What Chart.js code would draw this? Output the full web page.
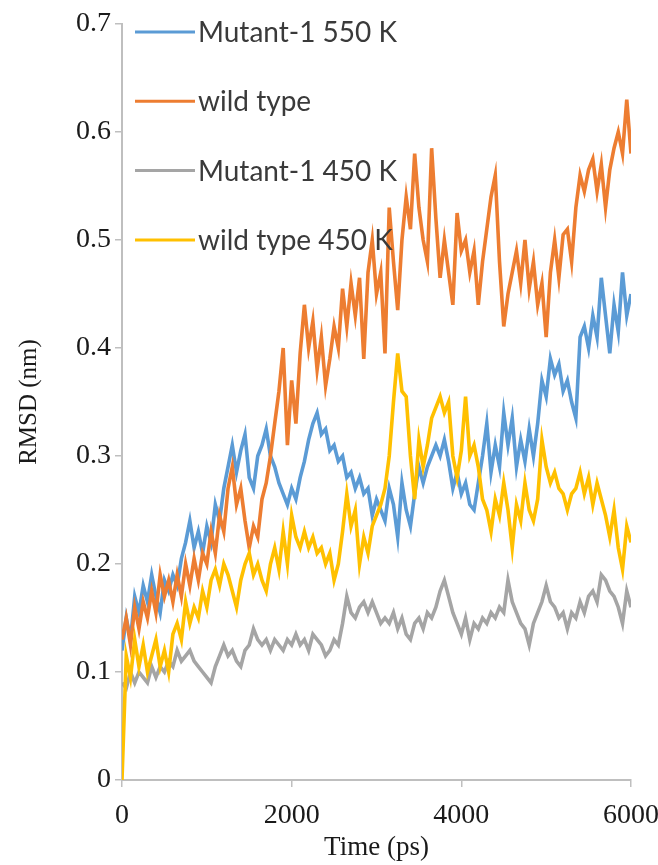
<!DOCTYPE html>
<html>
<head>
<meta charset="utf-8">
<title>RMSD vs time</title>
<script src="https://cdn.jsdelivr.net/npm/chart.js@4.4.1/dist/chart.umd.min.js"></script>
<style>
  html, body { margin: 0; padding: 0; background: #ffffff; }
  #wrap { width: 658px; height: 865px; position: relative; }
</style>
</head>
<body>
<div id="wrap"><canvas id="rmsd" width="658" height="865"></canvas></div>
<script>
// Sampling times of the trajectory frames (ps), one every 50 ps.
const timePs = [
  0, 50, 100, 150, 200, 250, 300, 350, 400, 450,
  500, 550, 600, 650, 700, 750, 800, 850, 900, 950,
  1000, 1050, 1100, 1150, 1200, 1250, 1300, 1350, 1400, 1450,
  1500, 1550, 1600, 1650, 1700, 1750, 1800, 1850, 1900, 1950,
  2000, 2050, 2100, 2150, 2200, 2250, 2300, 2350, 2400, 2450,
  2500, 2550, 2600, 2650, 2700, 2750, 2800, 2850, 2900, 2950,
  3000, 3050, 3100, 3150, 3200, 3250, 3300, 3350, 3400, 3450,
  3500, 3550, 3600, 3650, 3700, 3750, 3800, 3850, 3900, 3950,
  4000, 4050, 4100, 4150, 4200, 4250, 4300, 4350, 4400, 4450,
  4500, 4550, 4600, 4650, 4700, 4750, 4800, 4850, 4900, 4950,
  5000, 5050, 5100, 5150, 5200, 5250, 5300, 5350, 5400, 5450,
  5500, 5550, 5600, 5650, 5700, 5750, 5800, 5850, 5900, 5950,
  6000
];

// RMSD (nm) of each run
const mutant550 = [
  0.12, 0.15, 0.13, 0.17, 0.155, 0.18, 0.165, 0.19, 0.17, 0.155,
  0.185, 0.175, 0.19, 0.18, 0.205, 0.22, 0.24, 0.215, 0.23, 0.21,
  0.235, 0.22, 0.255, 0.24, 0.27, 0.29, 0.31, 0.285, 0.305, 0.32,
  0.28, 0.27, 0.3, 0.31, 0.325, 0.3, 0.29, 0.275, 0.265, 0.255,
  0.27, 0.26, 0.28, 0.295, 0.315, 0.33, 0.34, 0.32, 0.325, 0.305,
  0.31, 0.295, 0.3, 0.28, 0.285, 0.27, 0.28, 0.265, 0.27, 0.245,
  0.26, 0.25, 0.24, 0.27, 0.255, 0.225, 0.275, 0.25, 0.235, 0.265,
  0.29, 0.275, 0.29, 0.3, 0.31, 0.3, 0.315, 0.295, 0.27, 0.285,
  0.265, 0.275, 0.255, 0.25, 0.275, 0.3, 0.33, 0.285, 0.31, 0.29,
  0.34, 0.31, 0.335, 0.29, 0.315, 0.295, 0.325, 0.3, 0.33, 0.37,
  0.355, 0.39, 0.375, 0.385, 0.36, 0.37, 0.35, 0.335, 0.41, 0.42,
  0.4, 0.43, 0.41, 0.465, 0.43, 0.395, 0.44, 0.415, 0.47, 0.43,
  0.45
];

const wildType = [
  0.13, 0.15, 0.125, 0.16, 0.14, 0.165, 0.15, 0.175, 0.155, 0.19,
  0.17, 0.185, 0.165, 0.19, 0.17, 0.2, 0.18, 0.205, 0.185, 0.21,
  0.2, 0.23, 0.21, 0.245, 0.23, 0.27, 0.29, 0.255, 0.27, 0.24,
  0.215, 0.235, 0.225, 0.26, 0.275, 0.3, 0.33, 0.36, 0.4, 0.31,
  0.37, 0.33, 0.395, 0.44, 0.4, 0.425, 0.38, 0.41, 0.365, 0.39,
  0.42, 0.4, 0.455, 0.42, 0.46, 0.43, 0.465, 0.39, 0.47, 0.5,
  0.45, 0.47, 0.395, 0.53, 0.48, 0.435, 0.5, 0.54, 0.51, 0.58,
  0.53, 0.5, 0.48, 0.585, 0.52, 0.465, 0.5, 0.47, 0.44, 0.525,
  0.49, 0.5, 0.47, 0.49, 0.44, 0.48, 0.51, 0.54, 0.56, 0.48,
  0.42, 0.45, 0.47, 0.49, 0.46, 0.5, 0.455, 0.48, 0.44, 0.46,
  0.41, 0.47, 0.5, 0.465, 0.505, 0.51, 0.48, 0.53, 0.56, 0.545,
  0.565, 0.575, 0.545, 0.57, 0.53, 0.565, 0.585, 0.6, 0.58, 0.63,
  0.58
];

const mutant450 = [
  0.09, 0.085, 0.1, 0.09, 0.1, 0.095, 0.09, 0.105, 0.095, 0.105,
  0.1, 0.11, 0.105, 0.12, 0.11, 0.115, 0.12, 0.11, 0.105, 0.1,
  0.095, 0.09, 0.105, 0.115, 0.125, 0.115, 0.12, 0.11, 0.105, 0.12,
  0.125, 0.14, 0.13, 0.125, 0.13, 0.12, 0.13, 0.125, 0.12, 0.13,
  0.125, 0.135, 0.125, 0.13, 0.12, 0.135, 0.13, 0.125, 0.115, 0.12,
  0.13, 0.125, 0.145, 0.17, 0.155, 0.15, 0.16, 0.165, 0.155, 0.165,
  0.155, 0.145, 0.15, 0.145, 0.155, 0.14, 0.15, 0.135, 0.13, 0.145,
  0.15, 0.14, 0.155, 0.15, 0.16, 0.175, 0.185, 0.17, 0.155, 0.145,
  0.135, 0.15, 0.13, 0.145, 0.14, 0.15, 0.145, 0.155, 0.15, 0.16,
  0.155, 0.185, 0.165, 0.155, 0.145, 0.14, 0.125, 0.145, 0.155, 0.165,
  0.18, 0.165, 0.16, 0.15, 0.155, 0.14, 0.155, 0.15, 0.165, 0.155,
  0.17, 0.175, 0.165, 0.19, 0.185, 0.175, 0.17, 0.16, 0.145, 0.175,
  0.16
];

const wildType450 = [
  0, 0.115, 0.095, 0.13, 0.105, 0.125, 0.1, 0.115, 0.13, 0.105,
  0.12, 0.1, 0.135, 0.145, 0.13, 0.165, 0.145, 0.16, 0.15, 0.175,
  0.16, 0.185, 0.195, 0.18, 0.2, 0.19, 0.175, 0.16, 0.185, 0.2,
  0.21, 0.19, 0.2, 0.185, 0.175, 0.2, 0.215, 0.195, 0.23, 0.2,
  0.245, 0.225, 0.215, 0.23, 0.215, 0.225, 0.21, 0.215, 0.2, 0.21,
  0.185, 0.2, 0.23, 0.265, 0.235, 0.25, 0.2, 0.225, 0.21, 0.235,
  0.245, 0.255, 0.27, 0.3, 0.35, 0.395, 0.36, 0.355, 0.3, 0.26,
  0.315, 0.29, 0.31, 0.335, 0.345, 0.355, 0.34, 0.35, 0.3, 0.28,
  0.305, 0.355, 0.3, 0.31, 0.29, 0.26, 0.25, 0.23, 0.26, 0.245,
  0.275, 0.25, 0.215, 0.255, 0.24, 0.275, 0.25, 0.24, 0.26, 0.315,
  0.29, 0.275, 0.285, 0.27, 0.265, 0.25, 0.265, 0.27, 0.285, 0.265,
  0.28, 0.255, 0.275, 0.26, 0.245, 0.225, 0.25, 0.215, 0.195, 0.235,
  0.22
];

const seriesNames = ['Mutant-1 550 K', 'wild type', 'Mutant-1 450 K', 'wild type 450 K'];
const seriesColors = ['#5B9BD5', '#ED7D31', '#A5A5A5', '#FFC000'];
const seriesValues = [mutant550, wildType, mutant450, wildType450];

const xTickValues = [0, 2000, 4000, 6000];
const yTickValues = [0, 0.1, 0.2, 0.3, 0.4, 0.5, 0.6, 0.7];
const yTickLabels = ['0', '0.1', '0.2', '0.3', '0.4', '0.5', '0.6', '0.7'];

const axisGray = '#BFBFBF';
const serif = '"Liberation Serif", "Times New Roman", serif';

// Legend drawn inside the plot area, top-left, one row per run.
const insideLegend = {
  id: 'insideLegend',
  afterDatasetsDraw(chart, args, opts) {
    const { ctx, chartArea } = chart;
    ctx.save();
    ctx.font = opts.font;
    ctx.textBaseline = 'middle';
    ctx.textAlign = 'left';
    chart.data.datasets.forEach((ds, i) => {
      const y = chartArea.top + opts.firstRow + i * opts.rowGap;
      const x0 = chartArea.left + opts.lineStart;
      ctx.strokeStyle = ds.borderColor;
      ctx.lineWidth = 3;
      ctx.beginPath();
      ctx.moveTo(x0, y);
      ctx.lineTo(x0 + opts.lineLength, y);
      ctx.stroke();
      ctx.fillStyle = opts.color;
      ctx.fillText(ds.label, x0 + opts.lineLength + 3, y + 1);
    });
    ctx.restore();
  }
};

const datasets = seriesNames.map((name, i) => ({
  label: name,
  data: timePs.map((t, k) => ({ x: t, y: seriesValues[i][k] })),
  borderColor: seriesColors[i],
  backgroundColor: seriesColors[i],
  borderWidth: 3.6,
  borderJoinStyle: 'miter',
  pointRadius: 0,
  tension: 0,
  fill: false,
  order: seriesNames.length - i
}));

new Chart(document.getElementById('rmsd'), {
  type: 'line',
  data: { datasets },
  plugins: [insideLegend],
  options: {
    responsive: false,
    animation: false,
    events: [],
    layout: { padding: { top: 24, right: 27, left: 0, bottom: 0 } },
    plugins: {
      legend: { display: false },
      tooltip: { enabled: false },
      insideLegend: {
        font: '28px Lato, "Open Sans", sans-serif',
        color: '#3a3a3a',
        firstRow: 8,
        rowGap: 69.3,
        lineStart: 13,
        lineLength: 60
      }
    },
    scales: {
      x: {
        type: 'linear',
        min: 0,
        max: 6000,
        afterBuildTicks: (scale) => { scale.ticks = xTickValues.map(v => ({ value: v })); },
        afterFit: (scale) => {
          scale.height = 85;
          scale.paddingLeft = 0;
          scale.paddingRight = 0;
        },
        grid: { drawOnChartArea: false, drawTicks: true, tickLength: 7, color: axisGray, lineWidth: 1.5 },
        border: { display: true, color: axisGray, width: 2 },
        ticks: {
          font: { family: serif, size: 28 },
          color: '#1a1a1a',
          padding: 12,
          maxRotation: 0,
          autoSkip: false,
          callback: (v) => String(v)
        },
        title: {
          display: true,
          text: 'Time (ps)',
          font: { family: serif, size: 27 },
          color: '#1a1a1a',
          padding: { top: 0, bottom: 1 }
        }
      },
      y: {
        type: 'linear',
        min: 0,
        max: 0.7,
        afterBuildTicks: (scale) => { scale.ticks = yTickValues.map(v => ({ value: v })); },
        afterFit: (scale) => { scale.width = 122; },
        grid: { drawOnChartArea: false, drawTicks: true, tickLength: 7, color: axisGray, lineWidth: 1.5 },
        border: { display: true, color: axisGray, width: 2 },
        ticks: {
          font: { family: serif, size: 28 },
          color: '#1a1a1a',
          padding: 4,
          autoSkip: false,
          callback: (v, idx) => yTickLabels[idx]
        },
        title: {
          display: true,
          text: 'RMSD (nm)',
          font: { family: serif, size: 25 },
          color: '#1a1a1a',
          padding: { top: 14, bottom: 0 }
        }
      }
    }
  }
});
</script>
</body>
</html>
